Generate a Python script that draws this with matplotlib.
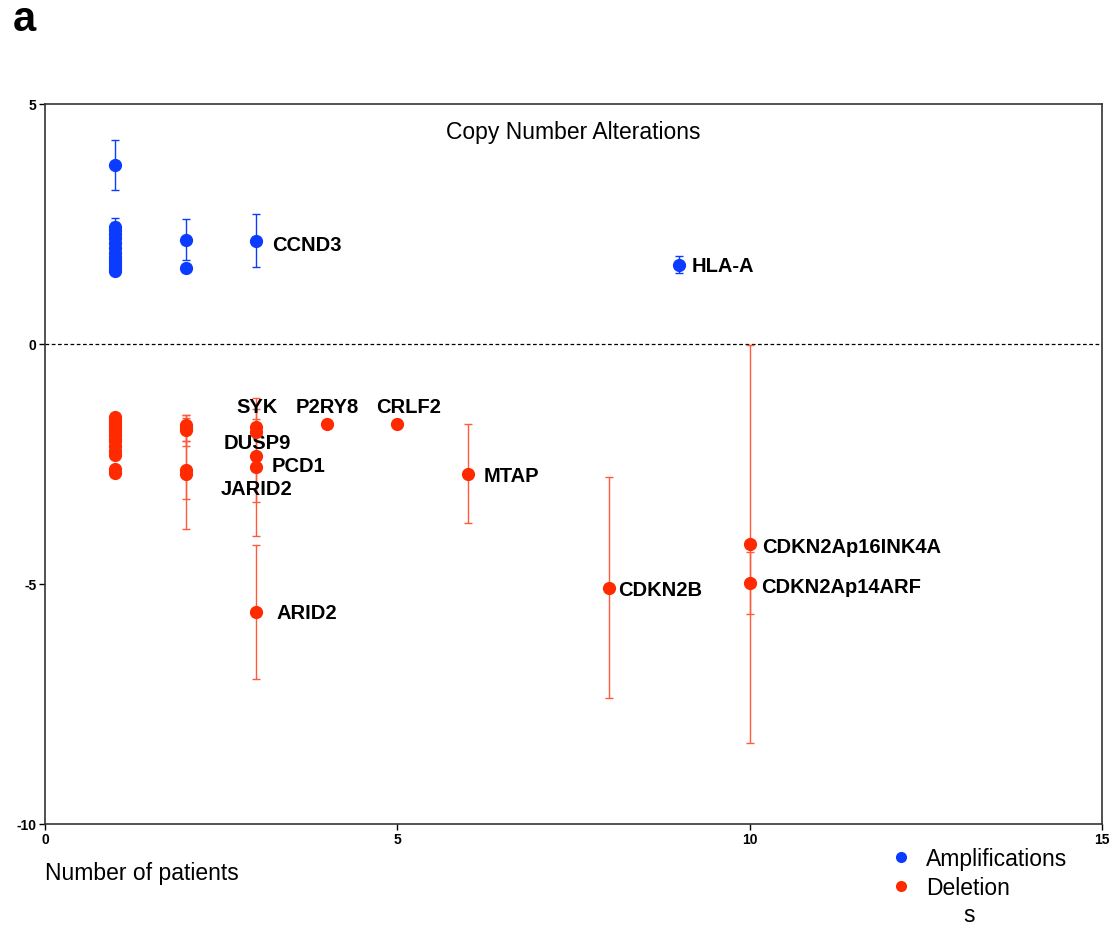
import matplotlib.pyplot as plt
from matplotlib.lines import Line2D

plt.rcParams['font.family'] = ['Liberation Sans', 'DejaVu Sans']
plt.rcParams['axes.unicode_minus'] = False

blue = "#0b3bff"
red = "#ff2a00"

# amplifications: patients, mean copy number, error
amp_x = [1, 1, 1, 1, 1, 1, 1, 1, 1, 1, 1, 1, 1, 1, 2, 2, 3, 9]
amp_y = [3.73, 2.44, 2.38, 2.3, 2.2, 2.1, 2.0, 1.9, 1.82, 1.75, 1.68, 1.62, 1.57, 1.52,
         2.17, 1.58, 2.15, 1.65]
amp_err = [0.52, 0.18, 0.17, 0, 0, 0, 0, 0, 0, 0, 0, 0, 0, 0,
           0.43, 0, 0.55, 0.18]

# deletions
del_x = [1, 1, 1, 1, 1, 1, 1, 1, 1, 1, 1, 1, 1, 1, 1,
         2, 2, 2, 2, 2,
         3, 3, 3, 3, 3, 4, 5, 6, 8, 10, 10]
del_y = [-1.52, -1.57, -1.62, -1.67, -1.72, -1.78, -1.84, -1.9, -1.97, -2.03, -2.12,
         -2.22, -2.32, -2.6, -2.68,
         -1.68, -1.75, -1.8, -2.62, -2.7,
         -1.73, -1.83, -2.33, -2.56, -5.58, -1.67, -1.67, -2.7, -5.08, -4.17, -4.98]
del_err = [0, 0, 0, 0, 0, 0, 0, 0, 0, 0, 0, 0, 0, 0, 0,
           0, 0.27, 0.32, 0.6, 1.15,
           0.17, 0, 0.97, 1.44, 1.4, 0, 0, 1.03, 2.3, 4.15, 0.65]

# gene labels and where they sit
gene_names = ["CCND3", "HLA-A", "SYK", "P2RY8", "CRLF2", "DUSP9", "PCD1", "JARID2",
              "MTAP", "ARID2", "CDKN2B", "CDKN2Ap16INK4A", "CDKN2Ap14ARF"]
gene_x = [3.22, 9.17, 2.72, 3.55, 4.70, 2.53, 3.21, 2.50, 6.23, 3.29, 8.13, 10.17, 10.16]
gene_y = [2.08, 1.63, -1.31, -1.31, -1.31, -2.06, -2.54, -3.02, -2.73, -5.6, -5.12, -4.21, -5.06]

fig = plt.figure(figsize=(11.14, 9.29), dpi=100)
ax = fig.add_axes([0.0404, 0.112, 0.9488, 0.775])

ax.errorbar(amp_x, amp_y, yerr=amp_err, fmt="o", color=blue, ms=8.5,
            ecolor=blue, elinewidth=1, capsize=3, capthick=1, zorder=3)
ax.errorbar(del_x, del_y, yerr=del_err, fmt="o", color=red, ms=8.5,
            ecolor="#ff5a3c", elinewidth=1, capsize=3, capthick=1, zorder=3)

for name, gx, gy in zip(gene_names, gene_x, gene_y):
    ax.text(gx, gy, name, fontsize=14.5, fontweight="bold", va="center", ha="left")

ax.axhline(0, color="black", lw=0.9, ls=(0, (3, 2)), zorder=1)

ax.set_xlim(0, 15)
ax.set_ylim(-10, 5)
ax.set_xticks([0, 5, 10, 15])
ax.set_yticks([-10, -5, 0, 5])
ax.tick_params(labelsize=10, length=4, width=1, pad=2)
for lab in ax.get_xticklabels() + ax.get_yticklabels():
    lab.set_fontweight("bold")
for sp in ax.spines.values():
    sp.set_color("#333333")
    sp.set_linewidth(1.2)

ax.text(0.5, 0.962, "Copy Number Alterations", transform=ax.transAxes,
        ha="center", va="center", fontsize=16.5)

fig.text(45 / 1114, 1 - 874 / 929, "Number of patients", fontsize=16.5,
         ha="left", va="center")
fig.text(24 / 1114, 1 - 20 / 929, "a", fontsize=30, fontweight="bold",
         ha="center", va="center")

handles = [Line2D([], [], marker="o", ls="", color=blue, ms=7),
           Line2D([], [], marker="o", ls="", color=red, ms=7)]
fig.legend(handles, ["Amplifications", "Deletion"], loc="upper left",
           bbox_to_anchor=(885 / 1114, 1 - 848 / 929), frameon=False,
           fontsize=16.5, handletextpad=0.4, labelspacing=0.28, handlelength=1.4,
           borderpad=0, borderaxespad=0)
fig.text(969 / 1114, 1 - 916 / 929, "s", fontsize=16.5, ha="center", va="center")

fig.savefig("out.png", dpi=100)
